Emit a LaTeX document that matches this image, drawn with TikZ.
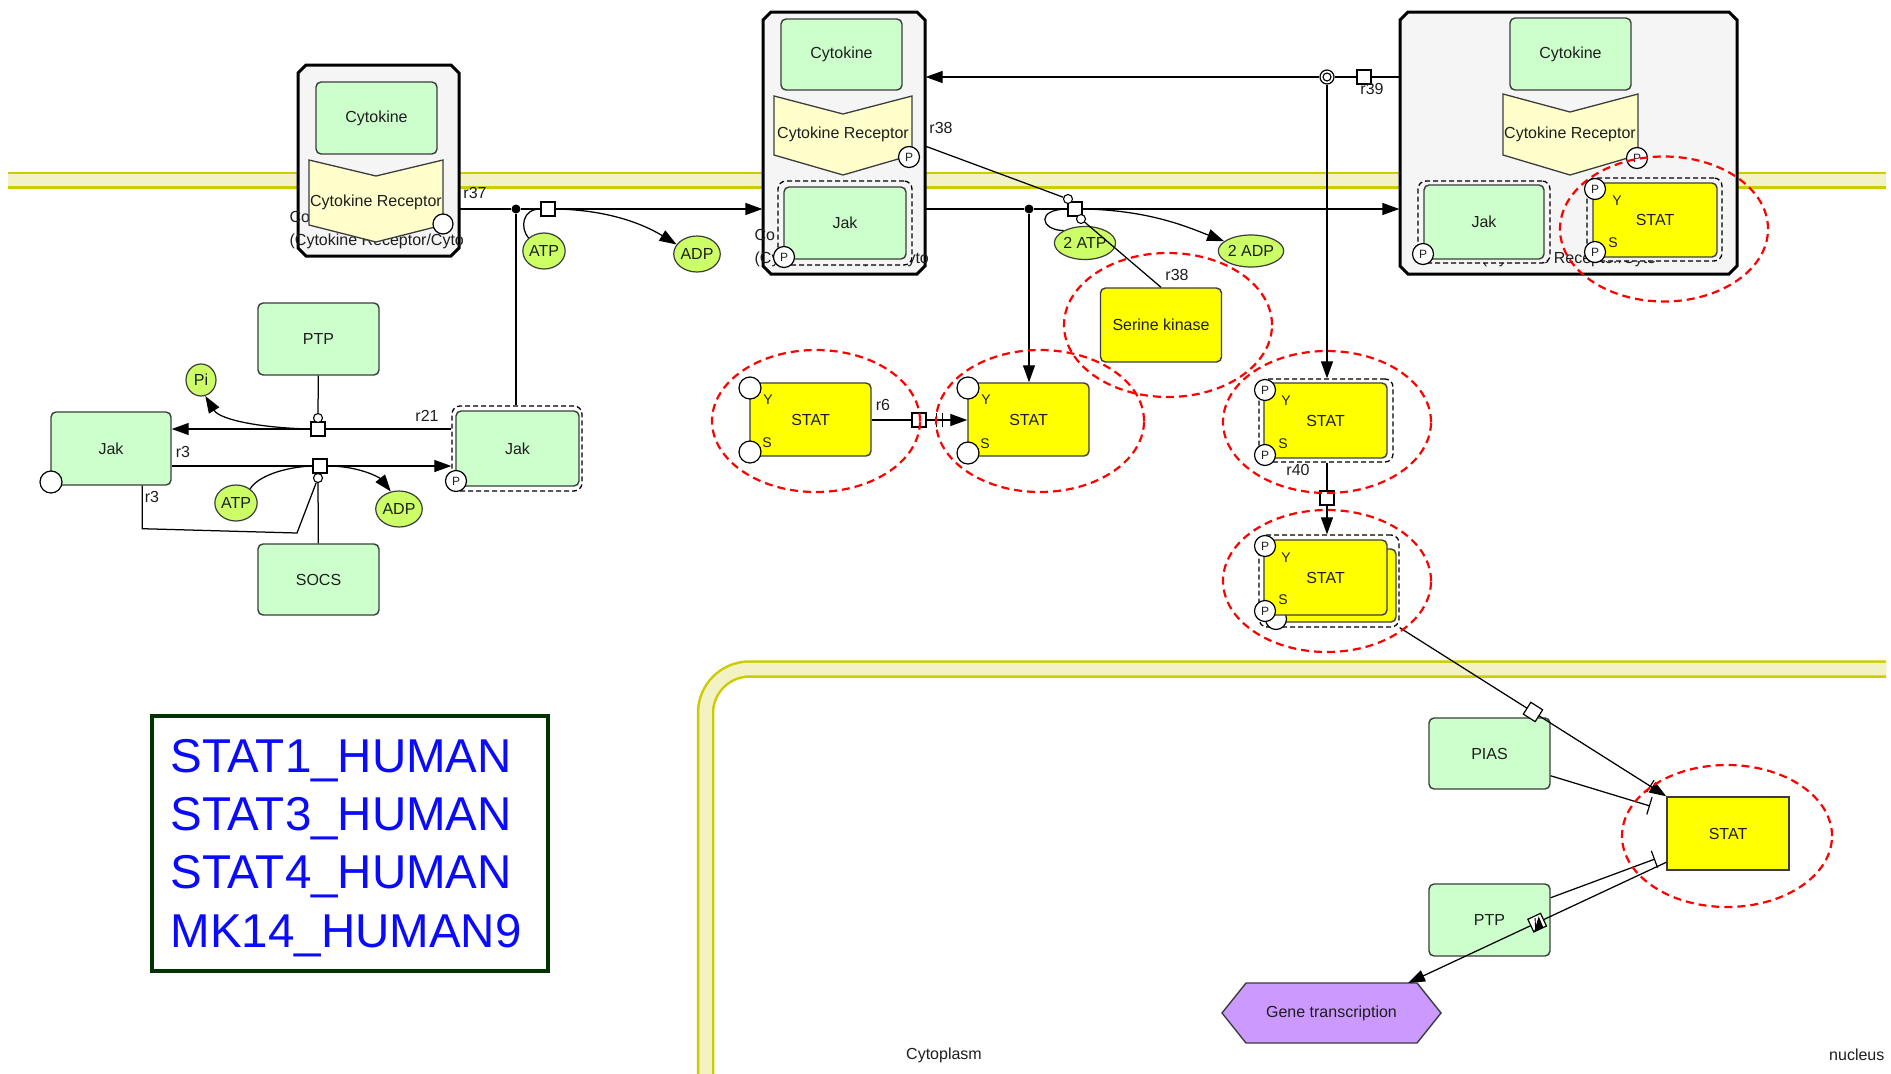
\documentclass[tikz,border=0pt]{standalone}
\usepackage{fontspec}
\setmainfont{Liberation Sans}
\usetikzlibrary{arrows.meta,shapes.geometric,fit}
\definecolor{gfill}{HTML}{CCFFCC}
\definecolor{gline}{HTML}{3C3C3C}
\definecolor{recfill}{HTML}{FFFFCC}
\definecolor{cfill}{HTML}{F5F5F5}
\definecolor{statY}{HTML}{FFFF00}
\definecolor{smfill}{HTML}{CCFF66}
\definecolor{memfill}{HTML}{F2F2C4}
\definecolor{memline}{HTML}{CCCC00}
\definecolor{genefill}{HTML}{CC99FF}
\definecolor{legline}{HTML}{003300}
\definecolor{txt}{HTML}{1E1E1E}
\definecolor{legtxt}{HTML}{0A0AFF}
\newcommand\fA{\fontsize{16}{19}\selectfont}
\newcommand\fB{\fontsize{14}{16}\selectfont}
\newcommand\fC{\fontsize{12}{14}\selectfont}
\newcommand\fL{\fontsize{47.5}{56}\selectfont}
\begin{document}
\begin{tikzpicture}[x=1pt,y=-1pt,line width=1.25pt,
  every node/.append style={text=txt},
  gbox/.style={draw=gline,fill=gfill,rounded corners=5pt,line width=1.4pt,inner sep=0pt,font=\fA},
  ybox/.style={gbox,fill=statY},
  dbox/.style={draw=black,dash pattern=on 5pt off 3pt,rounded corners=8pt,fill=cfill,line width=1.3pt,inner sep=0pt},
  pc/.style={circle,draw=black,fill=white,minimum size=21pt,inner sep=0pt,line width=1.2pt,font=\fC},
  ec/.style={circle,draw=black,fill=white,minimum size=22pt,inner sep=0pt,line width=1.2pt},
  sm/.style={ellipse,draw=gline,fill=smfill,inner sep=0pt,line width=1.2pt,font=\fA},
  rsq/.style={rectangle,draw=black,fill=white,minimum size=14pt,inner sep=0pt,line width=1.2pt},
  gsq/.style={rsq,path picture={\draw[line width=0.9pt] ([xshift=-4pt,yshift=-5pt]path picture bounding box.center) -- ([yshift=5pt]path picture bounding box.center) ([yshift=-5pt]path picture bounding box.center) -- ([xshift=4pt,yshift=5pt]path picture bounding box.center);}},
  mc/.style={circle,draw=black,fill=white,minimum size=9pt,inner sep=0pt,line width=1.1pt},
  dotn/.style={circle,fill=black,minimum size=9pt,inner sep=0pt},
  tbar/.style={rectangle,draw=black,minimum width=0pt,minimum height=14pt,inner sep=0pt,line width=1.2pt},
  arr/.style={-{Triangle[length=17pt,width=12pt]}},
  inh/.style={-{Bar[width=18pt,line width=1.2pt]}},
  hl/.style={ellipse,draw=red,dash pattern=on 8pt off 5pt,line width=2.2pt,inner sep=0pt},
  lab/.style={font=\fA,inner sep=0pt},
  res/.style={font=\fB,inner sep=0pt},
  recp/.style={draw=gline,fill=recfill,line width=1.3pt},
  cplx/.style={draw=black,fill=cfill,line width=3pt}
]
\useasboundingbox (0,0) rectangle (1891,1074);
\fill[white] (0,0) rectangle (1891,1074);
% membranes
\draw[memline,line width=17pt] (8,180) -- (1886,180);
\draw[memfill,line width=12pt] (8,180) -- (1886,180);
\draw[memline,line width=17.5pt,rounded corners=44pt] (705.5,1080) -- (705.5,669) -- (1886,669);
\draw[memfill,line width=12.5pt,rounded corners=44pt] (705.5,1080) -- (705.5,669) -- (1886,669);

% ---------- complex 1
\node[fit={(298,65)(459,256)},inner sep=0pt] (c1) {};
\draw[cplx] (306,65) -- (451,65) -- (459,73) -- (459,248) -- (451,256) -- (306,256) -- (298,248) -- (298,73) -- cycle;
\node[gbox,minimum width=121pt,minimum height=72pt] (cy1) at (376.5,118) {Cytokine};
\node[lab,anchor=west] (c1la) at (289,217) {Co};
\node[lab,anchor=west] (c1lb) at (289,241) {(Cytokine Receptor/Cyto};
\draw[recp] (309,160) -- (376,176) -- (443,160) -- (443,225) -- (376,242) -- (309,225) -- cycle;
\node[lab] (rec1) at (376,202) {Cytokine Receptor};
\node[ec,minimum size=20pt] (c1e) at (443,224) {};

% ---------- complex 2
\node[fit={(763,12)(925,274)},inner sep=0pt] (c2) {};
\draw[cplx] (771,12) -- (917,12) -- (925,20) -- (925,266) -- (917,274) -- (771,274) -- (763,266) -- (763,20) -- cycle;
\node[gbox,minimum width=121pt,minimum height=71pt] (cy2) at (841.5,54.5) {Cytokine};
\node[lab,anchor=west] (c2la) at (754,235) {Co};
\node[lab,anchor=west] (c2lb) at (754,259) {(Cytokine Receptor/Cyto};
\draw[recp] (774,96) -- (843,114) -- (912,96) -- (912,155) -- (843,175) -- (774,155) -- cycle;
\node[lab] (rec2) at (843,134) {Cytokine Receptor};
\node[pc] (c2p) at (909,157) {P};
\node[dbox,minimum width=134pt,minimum height=84pt] (jak2d) at (845,223) {};
\node[gbox,minimum width=122pt,minimum height=72pt] (jak2) at (845,223) {Jak};
\node[pc] (jak2p) at (784,257) {P};

% ---------- complex 3
\node[fit={(1400,12)(1737,274)},inner sep=0pt] (c3) {};
\draw[cplx] (1408,12) -- (1729,12) -- (1737,20) -- (1737,266) -- (1729,274) -- (1408,274) -- (1400,266) -- (1400,20) -- cycle;
\node[gbox,minimum width=121pt,minimum height=72pt] (cy3) at (1570.5,54) {Cytokine};
\node[lab] (c3lb) at (1569,259) {(Cytokine Receptor/Cyto};
\draw[recp] (1503,94) -- (1570,112) -- (1638,94) -- (1638,155) -- (1570,175) -- (1503,155) -- cycle;
\node[lab] (rec3) at (1570,134) {Cytokine Receptor};
\node[pc] (c3p) at (1637,158) {P};
\node[dbox,minimum width=132pt,minimum height=82pt] (jak3d) at (1484,222) {};
\node[gbox,minimum width=120pt,minimum height=74pt] (jak3) at (1484,222) {Jak};
\node[pc] (jak3p) at (1423,254) {P};
\node[dbox,minimum width=135pt,minimum height=83pt] (st3cd) at (1654.5,219.5) {};
\node[ybox,minimum width=124pt,minimum height=74pt] (st3c) at (1655,220) {STAT};
\node[pc] (st3cp1) at (1595,189) {P};
\node[pc] (st3cp2) at (1595,252) {P};
\node[res] (st3cy) at (1617,201) {Y};
\node[res] (st3cs) at (1613,243) {S};

% ---------- left Jak part
\node[gbox,minimum width=121pt,minimum height=72pt] (ptp1) at (318.5,339) {PTP};
\node[sm,minimum width=30pt,minimum height=32pt] (pi) at (201,380) {Pi};
\node[gbox,minimum width=120pt,minimum height=73pt] (jakL) at (111,448.5) {Jak};
\node[ec] (jakLe) at (51,482) {};
\node[dbox,fill=white,minimum width=130pt,minimum height=85pt] (jakRd) at (517,448.5) {};
\node[gbox,minimum width=123pt,minimum height=75pt] (jakR) at (517.5,448.5) {Jak};
\node[pc] (jakRp) at (456,481) {P};
\node[gbox,minimum width=121pt,minimum height=71pt] (socs) at (318.5,579.5) {SOCS};
\node[sm,minimum width=40pt,minimum height=36pt] (atp3) at (236,503) {ATP};
\node[sm,minimum width=40pt,minimum height=36pt] (adp3) at (399,509) {ADP};
\node[sm,minimum width=40pt,minimum height=36pt] (atp1) at (544,251) {ATP};
\node[sm,minimum width=40pt,minimum height=36pt] (adp1) at (697,254) {ADP};
\node[sm,minimum width=54pt,minimum height=33pt] (atp2) at (1085,243) {2 ATP};
\node[sm,minimum width=55pt,minimum height=32pt] (adp2) at (1251,251) {2 ADP};

% ---------- STAT row
\node[ybox,minimum width=121pt,minimum height=73pt] (stat1) at (810.5,419.5) {STAT};
\node[ec] (stat1a) at (750,388) {};
\node[ec] (stat1b) at (750,452) {};
\node[res] (stat1y) at (768,400) {Y};
\node[res] (stat1s) at (767,443) {S};
\node[ybox,minimum width=121pt,minimum height=73pt] (stat2) at (1028.5,419.5) {STAT};
\node[ec] (stat2a) at (968,388) {};
\node[ec] (stat2b) at (968,453) {};
\node[res] (stat2y) at (986,400) {Y};
\node[res] (stat2s) at (985,444) {S};
\node[ybox,minimum width=121pt,minimum height=74pt] (sk) at (1161,325) {Serine kinase};
\node[dbox,fill=white,minimum width=134pt,minimum height=83pt] (stat3d) at (1326,420.5) {};
\node[ybox,minimum width=123pt,minimum height=75pt] (stat3) at (1325.5,420.5) {STAT};
\node[pc] (stat3a) at (1265,390) {P};
\node[pc] (stat3b) at (1265,455) {P};
\node[res] (stat3y) at (1286,401) {Y};
\node[res] (stat3s) at (1283,444) {S};
\node[dbox,fill=white,minimum width=140pt,minimum height=92pt] (stat4d) at (1329,581) {};
\node[ybox,minimum width=123pt,minimum height=73pt] (stat4b) at (1334.5,585.5) {};
\node[ec,minimum size=21pt] (stat4c) at (1276,619) {};
\node[ybox,minimum width=123pt,minimum height=75pt] (stat4) at (1325.5,577.5) {STAT};
\node[pc] (stat4p1) at (1265,546) {P};
\node[pc] (stat4p2) at (1265,611) {P};
\node[res] (stat4y) at (1286,558) {Y};
\node[res] (stat4s) at (1283,600) {S};

% ---------- nucleus
\node[gbox,minimum width=121pt,minimum height=71pt] (pias) at (1489.5,753.5) {PIAS};
\node[ybox,sharp corners,minimum width=122pt,minimum height=73pt] (nstat) at (1728,833.5) {STAT};
\node[gbox,minimum width=121pt,minimum height=72pt] (ptp2) at (1489.5,920) {PTP};
\node[fit={(1222,983)(1441,1043)},inner sep=0pt] (gene) {};
\draw[draw=gline,fill=genefill,line width=1.4pt] (1222,1013) -- (1246,983) -- (1417,983) -- (1441,1013) -- (1417,1043) -- (1246,1043) -- cycle;
\node[lab] (genet) at (gene.center) {Gene transcription};

% ---------- legend and compartment labels
\node[draw=legline,line width=4pt,fill=white,minimum width=396pt,minimum height=255pt,inner sep=0pt] (legend) at (350,843.5) {};
\node[font=\fL,text=legtxt,anchor=base west,inner sep=0pt] (lg1) at (170,772) {STAT1\_HUMAN};
\node[font=\fL,text=legtxt,anchor=base west,inner sep=0pt] (lg2) at (170,830) {STAT3\_HUMAN};
\node[font=\fL,text=legtxt,anchor=base west,inner sep=0pt] (lg3) at (170,888) {STAT4\_HUMAN};
\node[font=\fL,text=legtxt,anchor=base west,inner sep=0pt] (lg4) at (170,947) {MK14\_HUMAN9};
\node[lab] (lcyto) at (944,1055) {Cytoplasm};
\node[lab,anchor=east] (lnuc) at (1885,1055) {nucleus};

% ---------- r37
\node[dotn] (dot37) at (516,209) {};
\node[rsq] (sq37) at (548,209) {};
\draw (c1.east |- dot37) -- (dot37) -- (sq37);
\draw[arr] (sq37) -- (c2.west |- sq37);
\draw (dot37) -- (dot37 |- jakRd.north);
\draw (sq37.west) .. controls (522,209) and (520,228) .. (atp1.140);
\draw[arr] (sq37.east) .. controls (610,210) and (645,225) .. (adp1.155);
\node[lab] (l37) at (475,193) {r37};

% ---------- r38
\node[dotn] (dot38) at (1029,209) {};
\node[rsq] (sq38) at (1075,209) {};
\node[mc] (m38a) at (1068,199) {};
\node[mc] (m38b) at (1081,219) {};
\coordinate (r38s) at (925,146);
\draw (c2.east |- dot38) -- (dot38) -- (sq38);
\draw[arr] (sq38) -- (c3.west |- sq38);
\draw[arr] (dot38) -- (dot38 |- stat2.north);
\draw (r38s) -- (m38a);
\draw (m38b) -- (sk.north);
\draw (sq38.west) .. controls (1036,209) and (1040,230) .. (atp2.150);
\draw[arr] (sq38.east) .. controls (1150,210) and (1190,228) .. (adp2.160);
\node[lab] (l38a) at (941,128) {r38};
\node[lab] (l38b) at (1177,275) {r38};

% ---------- r39
\node[circle,draw=black,fill=white,minimum size=14pt,inner sep=0pt,line width=1.2pt] (circ39) at (1327,77) {};
\draw[line width=1.1pt] (circ39.center) circle (4pt);
\node[rsq] (sq39) at (1364,77) {};
\draw (c3.west |- sq39) -- (sq39) -- (circ39);
\draw[arr] (circ39) -- (c2.east |- circ39);
\draw[arr] (circ39) -- (circ39 |- stat3d.north);
\node[lab] (l39) at (1372,89) {r39};

% ---------- r6
\node[rsq] (sq6) at (919,420) {};
\draw (stat1.east |- sq6) -- (sq6);
\draw[arr] (sq6) -- node[tbar,pos=0.25] (b6a) {} node[tbar,pos=0.4] (b6b) {} (stat2.west |- sq6);
\node[lab] (l6) at (883,405) {r6};

% ---------- r40
\node[rsq] (sq40) at (1327,498) {};
\draw (sq40 |- stat3d.south) -- (sq40);
\draw[arr] (sq40) -- (sq40 |- stat4d.north);
\node[lab] (l40) at (1298,470) {r40};

% ---------- nuclear import and regulation
\draw[arr] (stat4d.south east) -- node[rsq,sloped,pos=0.5] (sq41) {} node[tbar,sloped,pos=0.94] (b41) {} (nstat.north west);
\coordinate (piasT) at (1650,806);
\draw[inh] (pias.-20) -- (piasT);
\coordinate (ptpT) at (1655,859);
\draw[inh] (ptp2.20) -- (ptpT);
\coordinate (geneIn) at (1408,983);
\draw[arr] (nstat.-155) -- node[gsq,sloped,pos=0.5] (sq42) {} (geneIn);

% ---------- r21 / r3
\node[rsq] (sq21) at (318,429) {};
\node[mc] (m21) at (318,418) {};
\draw (jakRd.west |- sq21) -- (sq21);
\draw[arr] (sq21) -- (jakL.east |- sq21);
\draw (ptp1) -- (m21);
\draw[arr] (sq21.west) .. controls (262,428) and (220,420) .. (pi.-75);
\node[lab] (l21) at (427,416) {r21};
\node[rsq] (sq3) at (320,466) {};
\node[mc] (m3) at (318,478) {};
\draw (jakL.east |- sq3) -- (sq3);
\draw[arr] (sq3) -- (jakRd.west |- sq3);
\draw (socs) -- (m3);
\draw (atp3.45) .. controls (258,476) and (285,467) .. (sq3.west);
\draw[arr] (sq3.east) .. controls (360,466) and (380,478) .. (adp3.115);
\draw (jakL.-50) -- ++(0,43) -- (297,533) -- (m3);
\node[lab] (l3a) at (183,452) {r3};
\node[lab] (l3b) at (152,497) {r3};

% ---------- highlight ellipses
\node[hl,minimum width=208pt,minimum height=142pt] (hl1) at (816,421) {};
\node[hl,minimum width=208pt,minimum height=142pt] (hl2) at (1040,421) {};
\node[hl,minimum width=208pt,minimum height=144pt] (hlsk) at (1168,325) {};
\node[hl,minimum width=208pt,minimum height=142pt] (hl3) at (1327,422) {};
\node[hl,minimum width=208pt,minimum height=142pt] (hl4) at (1327,581) {};
\node[hl,minimum width=208pt,minimum height=145pt] (hlc3) at (1664,229) {};
\node[hl,minimum width=210pt,minimum height=142pt] (hln) at (1727,836) {};
\end{tikzpicture}
\end{document}
